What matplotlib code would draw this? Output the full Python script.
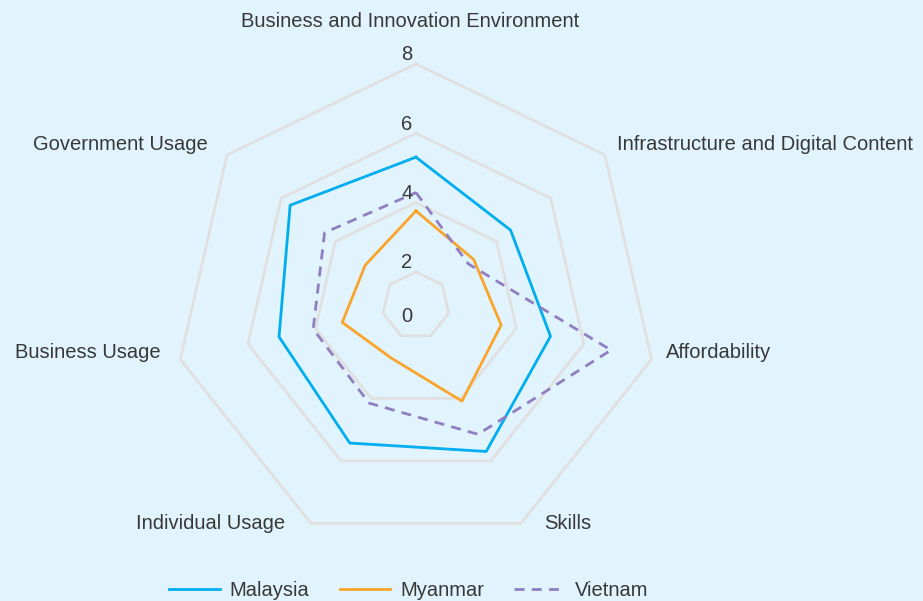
import numpy as np
import matplotlib
matplotlib.use("Agg")
import matplotlib.pyplot as plt

categories = ["Business and Innovation Environment", "Infrastructure and Digital Content",
              "Affordability", "Skills", "Individual Usage", "Business Usage", "Government Usage"]
malaysia = [5.31, 4.52, 5.01, 5.70, 5.43, 5.08, 5.67]
myanmar = [3.76, 3.16, 3.55, 4.09, 2.70, 3.21, 2.90]
vietnam = [4.29, 2.96, 6.80, 5.15, 4.15, 4.07, 4.40]
ring_values = [2, 4, 6, 8]
tick_labels = ["0", "2", "4", "6", "8"]

bg = "#E1F3FC"
txt = "#383838"
plt.rcParams["font.family"] = ["Liberation Sans", "DejaVu Sans"]
plt.rcParams["font.size"] = 14.5

fig = plt.figure(figsize=(9.23, 6.01), dpi=100, facecolor=bg)
ax = fig.add_axes([0.1888, 0.0894, 0.5237, 0.8043], projection="polar")
ax.set_facecolor("none")
ax.set_theta_zero_location("N")
ax.set_theta_direction(-1)
ax.set_rlim(1.03, 8)
ax.grid(False)
ax.spines["polar"].set_visible(False)
ax.set_xticks([])
ax.set_yticks([])

n = len(categories)
theta = np.arange(n) * 2 * np.pi / n
th = np.append(theta, theta[0])

def closed(v):
    return np.append(v, v[0])

for rv in ring_values:
    ax.plot(th, [rv] * (n + 1), color="#E0E0E0", lw=2.0, zorder=1, clip_on=False)

ax.plot(th, closed(malaysia), color="#00ADEF", lw=2.0, label="Malaysia", zorder=3)
ax.plot(th, closed(myanmar), color="#F9A42B", lw=2.0, label="Myanmar", zorder=3)
ax.plot(th, closed(vietnam), color="#8F7FC1", lw=2.0, dashes=(3.6, 2.6), label="Vietnam", zorder=3)

# radial tick labels along the top axis
for lab in tick_labels[1:]:
    ax.annotate(lab, (0, float(lab)), xytext=(-9, 9), textcoords="offset pixels",
                ha="center", va="center", color=txt, annotation_clip=False)
ax.annotate(tick_labels[0], (0, 1.03), xytext=(-9, -11), textcoords="offset pixels",
            ha="center", va="center", color=txt, annotation_clip=False)

# category labels
offsets = [(-6, 42, "center"), (12, 10, "left"), (14, 7, "left"), (23, 0, "left"),
           (-26, 0, "right"), (-20, 7, "right"), (-19, 10, "right")]
for t, name, (dx, dy, ha) in zip(theta, categories, offsets):
    ax.annotate(name, (t, 8), xytext=(dx, dy), textcoords="offset pixels",
                ha=ha, va="center", color=txt, annotation_clip=False)

leg = fig.legend(loc="lower center", bbox_to_anchor=(0.443, -0.028), ncol=3, frameon=False,
                 handlelength=2.5, handletextpad=0.5, columnspacing=1.5)
for t in leg.get_texts():
    t.set_color(txt)

fig.savefig("out.png", dpi=100, facecolor=bg)
